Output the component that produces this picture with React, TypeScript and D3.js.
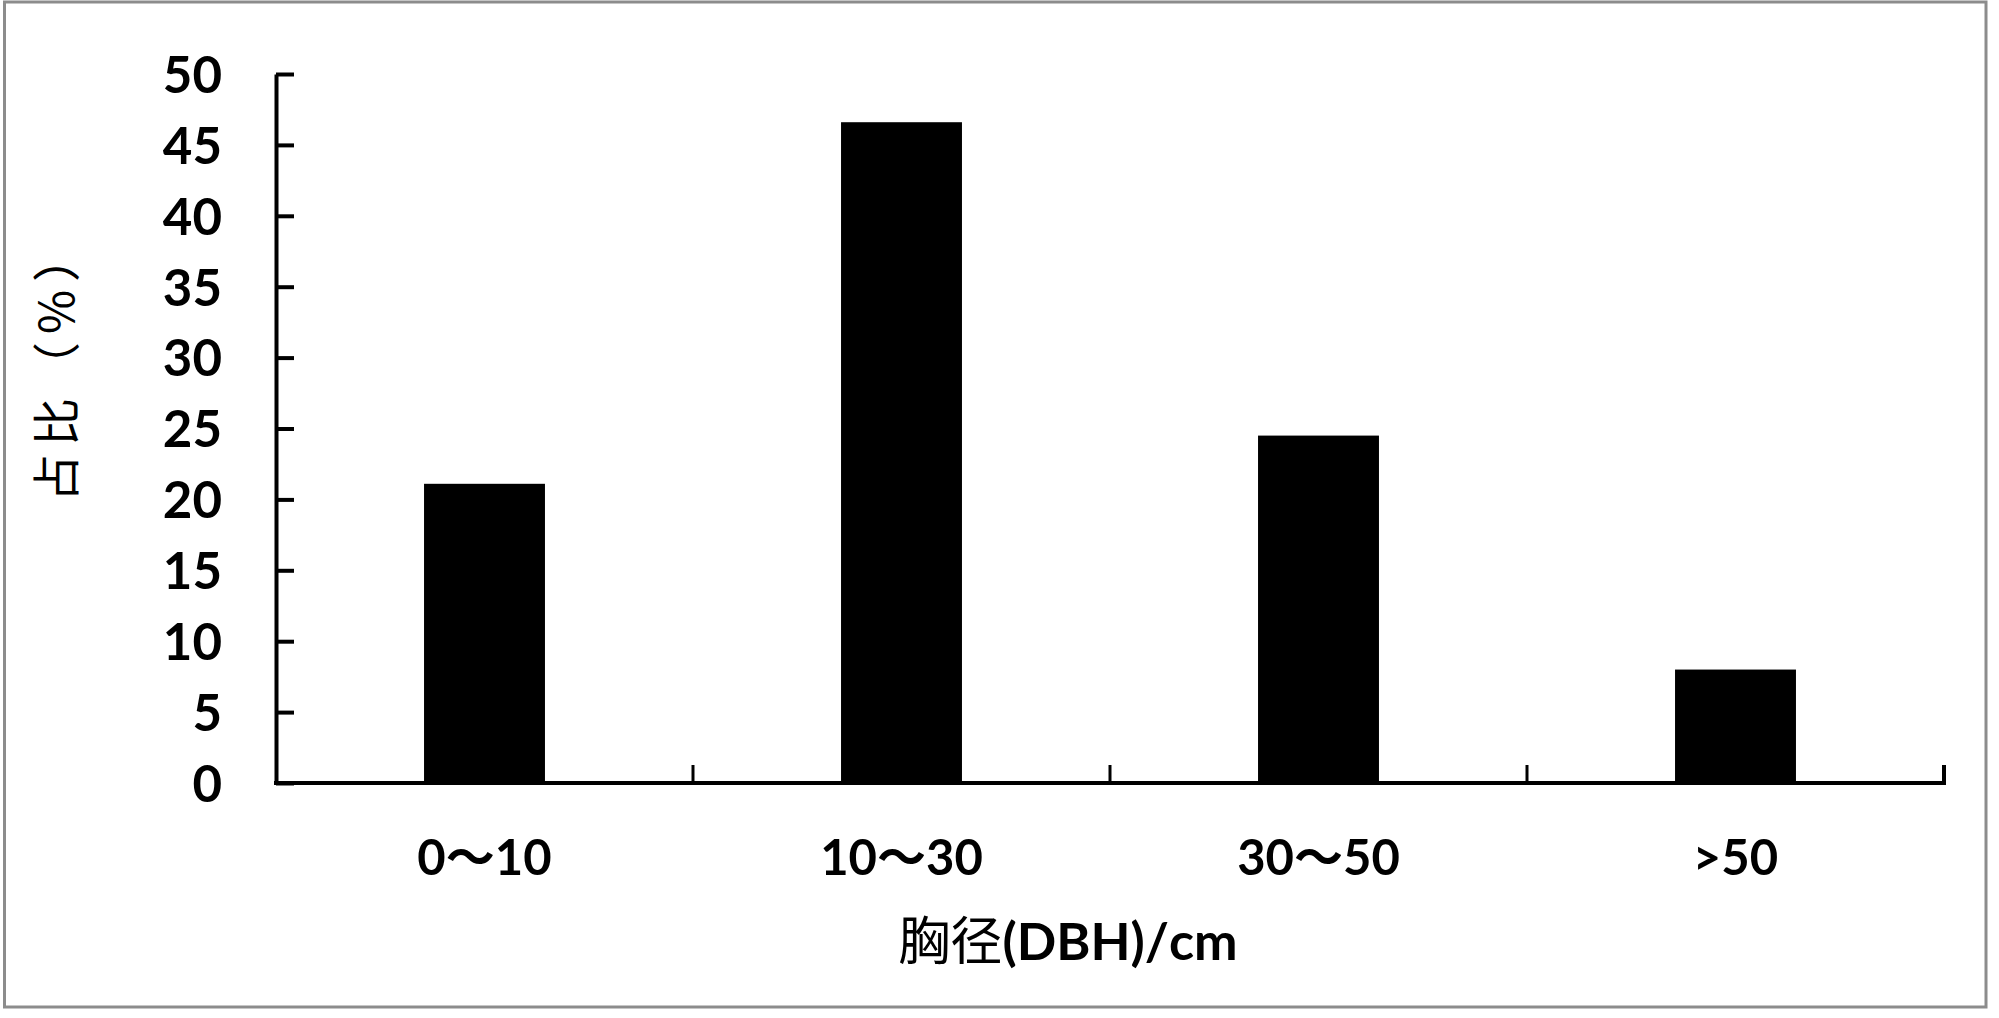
import React, { useEffect, useRef } from "react";
import * as d3 from "d3";

// diameter classes and share of trees (%)
const categories = ["0～10", "10～30", "30～50", ">50"];
const shares = [21.1, 46.6, 24.5, 8.0];
const yTicks = [0, 5, 10, 15, 20, 25, 30, 35, 40, 45, 50];
const xTitleCjk = "胸径";
const xTitleLatin = "(DBH)/cm";
const yTitle = "占比（%）";

const W = 1999;
const H = 1018;
const margin = { left: 276, right: 55, top: 74, bottom: 235 };

const latin = "Lato, 'Noto Sans CJK SC', sans-serif";
const cjk = "'Noto Sans CJK SC', sans-serif";

export default function App() {
  const ref = useRef<SVGSVGElement>(null);

  useEffect(() => {
    const svg = d3.select(ref.current);
    svg.selectAll("*").remove();

    const x = d3
      .scaleBand<string>()
      .domain(categories)
      .range([margin.left, W - margin.right])
      .paddingInner(0.71)
      .paddingOuter(0.355);

    const y = d3
      .scaleLinear()
      .domain([0, 50])
      .range([H - margin.bottom, margin.top]);

    // outer frame
    svg
      .append("rect")
      .attr("x", 4.5)
      .attr("y", 2)
      .attr("width", 1981.5)
      .attr("height", 1005)
      .attr("fill", "#fff")
      .attr("stroke", "#8c8c8c")
      .attr("stroke-width", 3);

    // bars
    svg
      .append("g")
      .selectAll("rect")
      .data(shares)
      .join("rect")
      .attr("x", (d, i) => x(categories[i])!)
      .attr("y", d => y(d))
      .attr("width", x.bandwidth())
      .attr("height", d => y(0) - y(d))
      .attr("fill", "#000");

    // y axis, ticks point inward
    const yAxis = svg
      .append("g")
      .attr("transform", `translate(${margin.left},0)`)
      .call(
        d3
          .axisLeft(y)
          .tickValues(yTicks)
          .tickSizeInner(-18)
          .tickSizeOuter(0)
          .tickPadding(54)
          .tickFormat(d3.format("d"))
      );
    yAxis.select(".domain").attr("stroke", "#000").attr("stroke-width", 4);
    yAxis.selectAll(".tick line").attr("stroke", "#000").attr("stroke-width", 4);
    yAxis
      .selectAll(".tick text")
      .attr("dy", "0.36em")
      .attr("fill", "#000")
      .style("font-family", latin)
      .style("font-weight", 700)
      .style("font-size", "51px");

    // x axis baseline
    const [x0, x1] = x.range();
    svg
      .append("line")
      .attr("x1", x0 - 2)
      .attr("x2", x1 + 2)
      .attr("y1", y(0))
      .attr("y2", y(0))
      .attr("stroke", "#000")
      .attr("stroke-width", 4);

    // category boundary ticks
    svg
      .append("g")
      .selectAll("line")
      .data(d3.range(1, categories.length + 1))
      .join("line")
      .attr("x1", i => x0 + i * x.step())
      .attr("x2", i => x0 + i * x.step())
      .attr("y1", y(0))
      .attr("y2", y(0) - 18)
      .attr("stroke", "#000")
      .attr("stroke-width", i => (i === categories.length ? 4 : 3));

    // category labels
    svg
      .append("g")
      .selectAll("text")
      .data(categories)
      .join("text")
      .attr("x", d => x(d)! + x.bandwidth() / 2)
      .attr("y", 875)
      .attr("text-anchor", "middle")
      .style("font-family", latin)
      .style("font-weight", 700)
      .style("font-size", "49px")
      .text(d => d);

    // x title
    const xt = svg
      .append("text")
      .attr("x", 1068)
      .attr("y", 960)
      .attr("text-anchor", "middle")
      .style("font-size", "52px");
    xt.append("tspan").style("font-family", cjk).style("font-weight", 400).text(xTitleCjk);
    xt.append("tspan").style("font-family", latin).style("font-weight", 700).text(xTitleLatin);

    // y title
    svg
      .append("text")
      .attr("transform", "translate(57,364) rotate(-90)")
      .attr("text-anchor", "middle")
      .attr("dy", "0.35em")
      .style("font-family", cjk)
      .style("font-weight", 400)
      .style("font-size", "48px")
      .style("letter-spacing", "8px")
      .style("text-spacing-trim", "space-all")
      .text(yTitle);
  }, []);

  return (
    <div style={{ position: "absolute", left: 0, top: 0 }}>
      <svg ref={ref} width={W} height={H} style={{ display: "block", background: "#fff" }} />
    </div>
  );
}
